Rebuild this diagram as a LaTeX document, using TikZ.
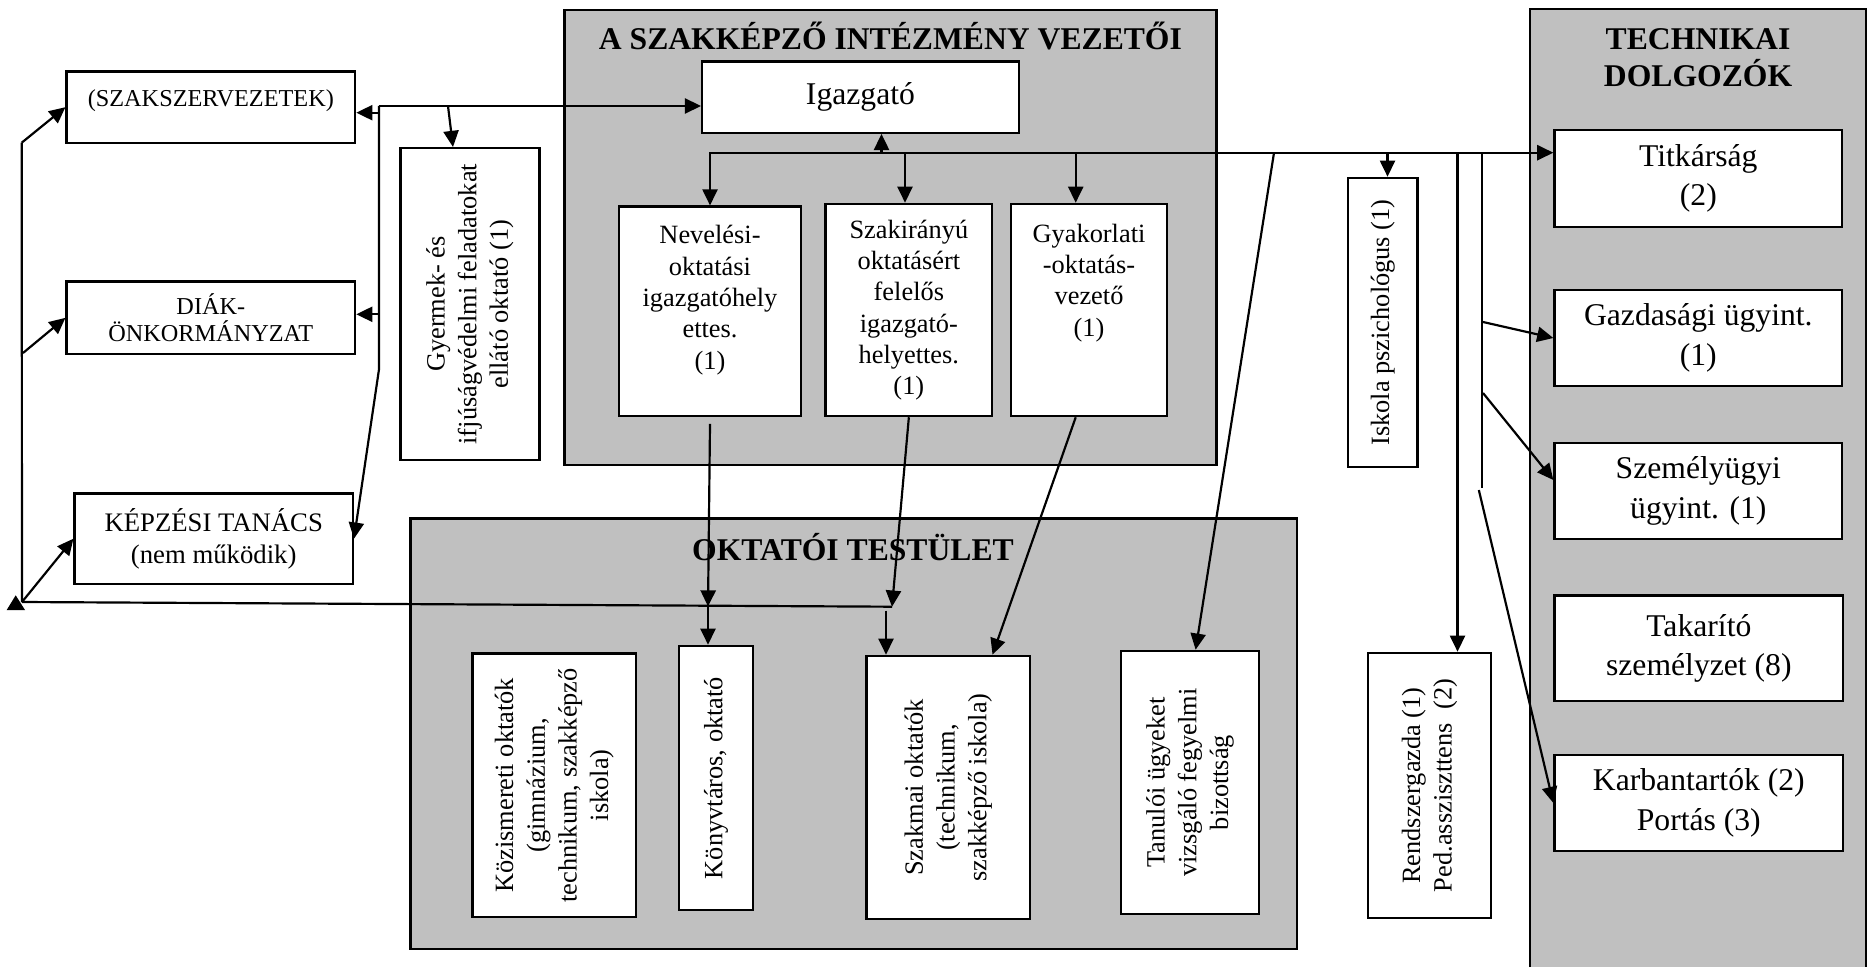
\documentclass[tikz,border=0pt]{standalone}
\usepackage{fontspec}
\setmainfont{Liberation Serif}
\usepackage{graphicx}
\usetikzlibrary{arrows.meta, calc}
\definecolor{panelgray}{HTML}{C0C0C0}
\newcommand{\pushup}[1]{\rule[-#1]{0pt}{0pt}}
\newcommand{\vtext}[1]{\rotatebox{90}{\begin{tabular}{@{}c@{}}#1\end{tabular}}}

\begin{document}
\begin{tikzpicture}[
  x=0.01cm, y=-0.01cm,
  line width=0.62pt, line join=miter,
  >={Triangle[length=4.6pt, width=4.3pt]},
  panel/.style = {draw=black, line width=0.75pt, fill=panelgray},
  box/.style   = {draw=black, line width=0.68pt, fill=white, inner sep=0pt,
                  align=center, anchor=center},
  fsmall/.style = {font=\fontsize{6.9}{7.7}\selectfont},
  fkep/.style   = {font=\fontsize{7.6}{9.1}\selectfont},
  finner/.style = {font=\fontsize{7.5}{8.9}\selectfont},
  flarge/.style = {font=\fontsize{9}{11.2}\selectfont},
  frot/.style   = {font=\fontsize{7.5}{9}\selectfont},
  ftitle/.style = {font=\bfseries\fontsize{9}{10.6}\selectfont, align=center}
]
\useasboundingbox (0,0) rectangle (1874,967);

% 三个灰色区域
\draw[panel] (564.5,10) rectangle (1216.5,465);
\draw[panel] (410.7,518.5) rectangle (1297,949);
\fill[panelgray] (1530,9) rectangle (1866,967);
\draw[line width=0.75pt] (1530,967) -- (1530,9) -- (1866,9) -- (1866,967);

\node[ftitle, anchor=base] (vezTitle) at (890.4,50) {A SZAKKÉPZŐ INTÉZMÉNY VEZETŐI};
\node[ftitle, anchor=base] (oktTitle) at (853,560) {OKTATÓI TESTÜLET};
\node[ftitle] (techTitle) at (1698,57.5) {TECHNIKAI\\DOLGOZÓK};

% 左列
\node[box, fsmall, minimum width=2.883cm, minimum height=0.71cm] (szak) at (210.85,107.2)
  {(SZAKSZERVEZETEK)\pushup{5pt}};
\node[box, fsmall, minimum width=2.883cm, minimum height=0.723cm] (diak) at (210.85,317.85)
  {DIÁK-\\ÖNKORMÁNYZAT};
\node[box, fkep, minimum width=2.78cm, minimum height=0.90cm] (kepz) at (213.7,538.7)
  {KÉPZÉSI TANÁCS\\(nem működik)};
\node[box, frot, minimum width=1.386cm, minimum height=3.117cm] (gyermek) at (470,304.15)
  {\vtext{Gyermek- és\\ifjúságvédelmi feladatokat\\ellátó oktató (1)}};

% vezetők
\node[box, flarge, minimum width=3.163cm, minimum height=0.71cm] (igazgato) at (860.45,97.2)
  {Igazgató\pushup{1pt}};
\node[box, finner, minimum width=1.82cm, minimum height=2.093cm] (neveles) at (710,311.35)
  {Nevelési-\\oktatási\\igazgatóhely\\ettes.\\(1)\pushup{8pt}};
\node[box, finner, minimum width=1.663cm, minimum height=2.12cm] (szakir) at (908.85,310)
  {Szakirányú\\oktatásért\\felelős\\igazgató-\\helyettes.\\(1)};
\node[box, finner, minimum width=1.56cm, minimum height=2.12cm] (gyak) at (1089,310)
  {Gyakorlati\\-oktatás-\\vezető\\(1)\pushup{17pt}};

\node[box, frot, minimum width=0.695cm, minimum height=2.89cm] (iskola) at (1382.75,322.5)
  {\vtext{Iskola pszichológus (1)}};
\node[box, frot, minimum width=1.23cm, minimum height=2.65cm] (rendsz) at (1429.5,785.5)
  {\vtext{Rendszergazda (1)\\Ped.assziszttens~~(2)}};

% oktatói testület
\node[box, frot, minimum width=1.633cm, minimum height=2.633cm] (kozism) at (554.35,785.35)
  {\vtext{Közismereti oktatók\\(gimnázium,\\technikum, szakképző\\iskola)}};
\node[box, frot, minimum width=0.74cm, minimum height=2.64cm] (konyv) at (716,778)
  {\vtext{Könyvtáros, oktató}};
\node[box, frot, minimum width=1.634cm, minimum height=2.63cm] (szakmai) at (948.3,787.5)
  {\vtext{Szakmai oktatók\\(technikum,\\szakképző iskola)}};
\node[box, frot, minimum width=1.38cm, minimum height=2.63cm] (tanuloi) at (1190,782.5)
  {\vtext{Tanulói ügyeket\\vizsgáló fegyelmi\\bizottság}};

% technikai dolgozók
\node[box, flarge, minimum width=2.874cm, minimum height=0.97cm] (titk) at (1698.3,178.5)
  {Titkárság\\(2)};
\node[box, flarge, minimum width=2.874cm, minimum height=0.96cm] (gazd) at (1698.3,338)
  {Gazdasági ügyint.\\(1)};
\node[box, flarge, minimum width=2.874cm, minimum height=0.96cm] (szem) at (1698.3,491)
  {Személyügyi\\ügyint. (1)};
\node[box, flarge, minimum width=2.884cm, minimum height=1.053cm] (takar) at (1698.8,648.35)
  {Takarító\\személyzet (8)};
\node[box, flarge, minimum width=2.884cm, minimum height=0.96cm] (karb) at (1698.8,803)
  {Karbantartók (2)\\Portás (3)};

% csomópontok
\coordinate (jTop)  at (379,106);
\coordinate (jSzak) at (379,112.7);
\coordinate (jDiak) at (379,314.3);
\coordinate (jBend) at (379,369.3);
\coordinate (jGyer) at (448,106);
\coordinate (lTop)  at (21.7,142.7);
\coordinate (lMid)  at (23,353);
\coordinate (lBot)  at (22,602);
\coordinate (jSzm)  at (892,606.7);
\coordinate (jSzm2) at (886,610.6);
\coordinate (jKv)   at (708,606.5);
\coordinate (hL)    at (709.3,152.7);
\coordinate (gyakOut) at (gyak.south -| 1075.7,0);
\coordinate (vTech) at (1481.7,488);
\coordinate (tGazd) at (1483,322);
\coordinate (tSzem) at (1483,393);
\coordinate (tKarb) at (1478.8,490);

% felső ág
\draw[->] (jTop) -- (jTop -| igazgato.west);
\draw[->] (jTop) -- (jBend) -- (kepz.east);
\draw[->] (jSzak) -- (jSzak -| szak.east);
\draw[->] (jDiak) -- (jDiak -| diak.east);
\draw[->] (jGyer) -- (453,0 |- gyermek.north);

% bal oldali ág
\draw (lTop) -- (lBot);
\draw[->] (lTop) -- (szak.west);
\draw[->] (lMid) -- (diak.west);
\draw[->] (lBot) -- (kepz.west);
\draw (lBot) -- (jSzm);
\fill (6.7,610) -- (15.7,595.3) -- (25,610) -- cycle;

% vezetők -> testület
\draw[->] ($(neveles.south)+(0,6.7)$) -- (jKv);
\draw[->] (jKv) -- (jKv |- konyv.north);
\draw[->] (szakir.south) -- (jSzm);
\draw[->] (jSzm2) -- (jSzm2 |- szakmai.north);
\draw[->] (gyakOut) -- (992.5,0 |- szakmai.north);

% Igazgató alatti vonal
\draw[->] (hL) -- (hL -| titk.west);
\draw[->] (hL -| 881.5,0) -- (881.5,0 |- igazgato.south);
\draw[->] (hL -| 710,0) -- (neveles.north);
\draw[->] (hL -| 905,0) -- (905,0 |- szakir.north);
\draw[->] (hL -| 1075.7,0) -- (1075.7,0 |- gyak.north);
\draw[->] (hL -| 1274,0) -- (1195.6,0 |- tanuloi.north);
\draw[->] (hL -| 1387.5,0) -- (1387.5,0 |- iskola.north);
\draw[->] (hL -| 1457.5,0) -- (1457.5,0 |- rendsz.north);
\draw (hL -| vTech) -- (vTech);
\draw[->] (tGazd) -- (gazd.west);
\draw[->] (tSzem) -- (szem.west |- 0,480);
\draw[->] (tKarb) -- (karb.west);

\end{tikzpicture}
\end{document}
